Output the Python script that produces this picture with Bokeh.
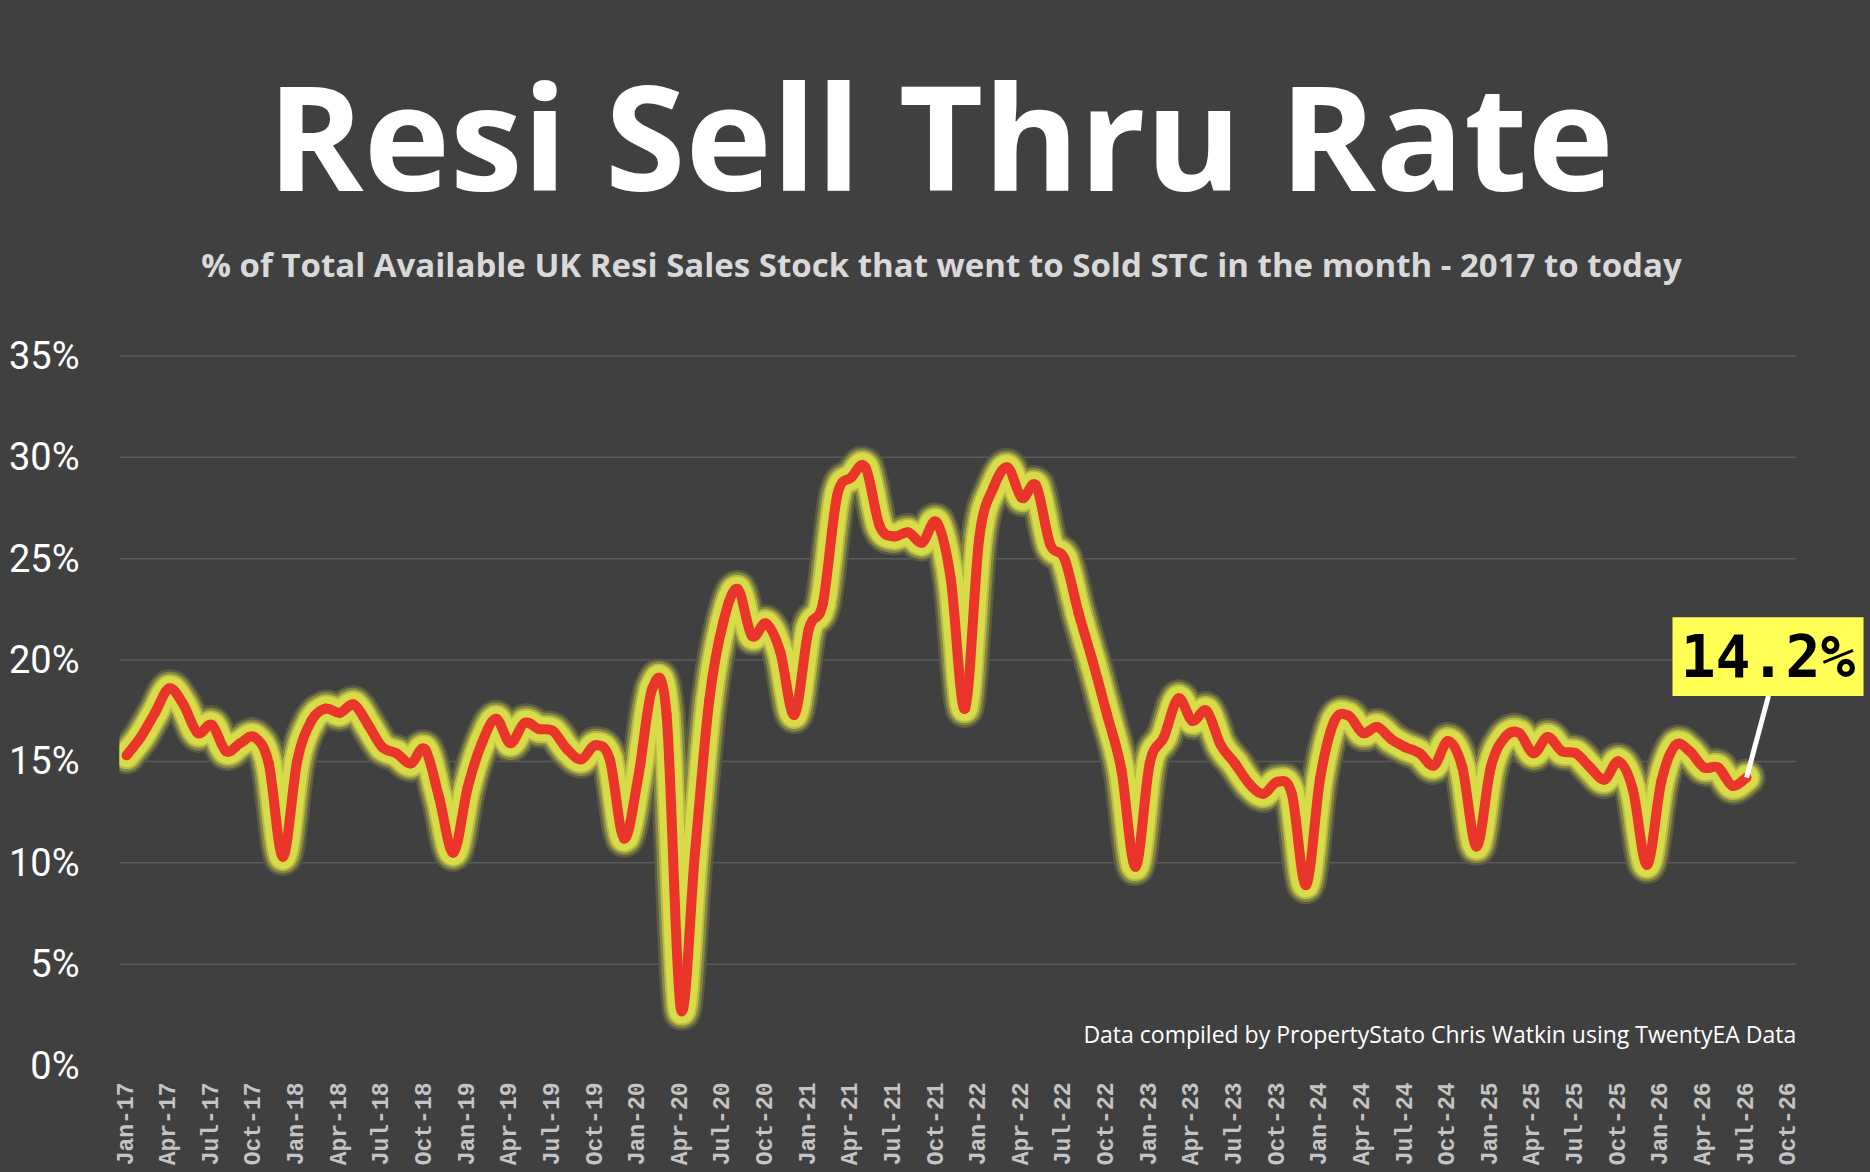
import math
from bokeh.plotting import figure
from bokeh.models import ColumnDataSource, Range1d, FixedTicker, PrintfTickFormatter, Label
from bokeh.embed import file_html
from bokeh.resources import INLINE

# ---------------- data ----------------
MONTH_NAMES = ["Jan", "Feb", "Mar", "Apr", "May", "Jun", "Jul", "Aug", "Sep", "Oct", "Nov", "Dec"]
# category axis: Jan-17 .. Oct-26
months = [f"{m}-{y:02d}" for y in range(17, 27) for m in MONTH_NAMES][:118]

# % of available stock going Sold STC in the month, Jan-17 .. Jul-26
sell_thru = [
    15.3, 16.2, 17.4, 18.6, 17.8, 16.4, 16.8, 15.5, 15.9, 16.2, 14.9, 10.3,   # 2017
    15.0, 17.0, 17.6, 17.4, 17.8, 16.8, 15.7, 15.4, 14.9, 15.6, 13.2, 10.5,   # 2018
    13.7, 15.9, 17.1, 15.9, 16.9, 16.6, 16.5, 15.6, 15.1, 15.8, 15.1, 11.2,   # 2019
    14.2, 18.6, 17.3, 2.8, 10.5, 18.0, 21.9, 23.5, 21.2, 21.8, 20.4, 17.3,    # 2020
    21.5, 22.8, 28.1, 29.0, 29.5, 26.6, 26.1, 26.3, 25.8, 26.8, 24.0, 17.6,   # 2021
    26.0, 28.5, 29.5, 28.0, 28.6, 25.7, 25.0, 22.3, 19.9, 17.3, 14.6, 9.8,    # 2022
    14.9, 16.2, 18.1, 17.0, 17.5, 15.8, 14.9, 13.9, 13.4, 14.0, 13.4, 8.9,    # 2023
    14.2, 17.0, 17.25, 16.4, 16.7, 16.1, 15.7, 15.4, 14.8, 16.0, 14.7, 10.8,  # 2024
    14.7, 16.2, 16.4, 15.4, 16.2, 15.5, 15.4, 14.7, 14.1, 15.0, 13.6, 9.9,    # 2025
    14.0, 15.8, 15.5, 14.7, 14.7, 13.8, 14.2,                                 # 2026
]

tick_labels = [
    "Jan-17", "Apr-17", "Jul-17", "Oct-17", "Jan-18", "Apr-18", "Jul-18", "Oct-18",
    "Jan-19", "Apr-19", "Jul-19", "Oct-19", "Jan-20", "Apr-20", "Jul-20", "Oct-20",
    "Jan-21", "Apr-21", "Jul-21", "Oct-21", "Jan-22", "Apr-22", "Jul-22", "Oct-22",
    "Jan-23", "Apr-23", "Jul-23", "Oct-23", "Jan-24", "Apr-24", "Jul-24", "Oct-24",
    "Jan-25", "Apr-25", "Jul-25", "Oct-25", "Jan-26", "Apr-26", "Jul-26", "Oct-26",
]
y_ticks = [0, 5, 10, 15, 20, 25, 30, 35]
grid_levels = [5, 10, 15, 20, 25, 30, 35]

TITLE = "Resi Sell Thru Rate"
SUBTITLE = "% of Total Available UK Resi Sales Stock that went to Sold STC in the month - 2017 to today"
FOOTNOTE = "Data compiled by PropertyStato Chris Watkin using TwentyEA Data"

# ---------------- layout (pixels) ----------------
W, H = 1866, 1168
FRAME_L, FRAME_B = 119, 1069   # frame spans to top and right edges of the canvas
CAT_W = 14.21                  # px per month
PX_PER_Y = 20.35               # px per percentage point

def dx(px):
    return -0.5 + (px - FRAME_L) / CAT_W

def dy(py):
    return (FRAME_B - py) / PX_PER_Y

BG = "#404040"
RED = "#e9352a"
GLOW = (216, 220, 72)

def mix(c, a, bg=(64, 64, 64)):
    r = [round(bg[k] + (c[k] - bg[k]) * a) for k in range(3)]
    return "#%02x%02x%02x" % tuple(r)

p = figure(
    width=W, height=H, output_backend="svg", toolbar_location=None,
    x_range=Range1d(dx(FRAME_L), dx(W)),
    y_range=Range1d(0, dy(0)),
    min_border_left=FRAME_L, min_border_right=0,
    min_border_top=0, min_border_bottom=H - FRAME_B,
    styles={"background-color": BG},
)
p.background_fill_color = BG
p.border_fill_color = None      # element/page background shows through; avoids frame seams
p.outline_line_color = None
p.xgrid.visible = False
p.ygrid.visible = False

# gridlines limited to the category span
n_cat = len(months)
p.segment(x0=[-0.5] * len(grid_levels), x1=[n_cat - 0.5] * len(grid_levels),
          y0=grid_levels, y1=grid_levels, line_color="#5b5b5b", line_width=1.5)

# ---------------- smoothed line (bezier segments through the data points) ----------------
n = len(sell_thru)
xs = list(range(n))
vs = sell_thru
seg = dict(
    x0=xs[:-1], y0=vs[:-1], x1=xs[1:], y1=vs[1:],
    cx0=[xs[i] + (xs[i + 1] - xs[max(i - 1, 0)]) / 6 for i in range(n - 1)],
    cy0=[vs[i] + (vs[i + 1] - vs[max(i - 1, 0)]) / 6 for i in range(n - 1)],
    cx1=[xs[i + 1] - (xs[min(i + 2, n - 1)] - xs[i]) / 6 for i in range(n - 1)],
    cy1=[vs[i + 1] - (vs[min(i + 2, n - 1)] - vs[i]) / 6 for i in range(n - 1)],
)
src = ColumnDataSource(seg)
for w, a in [(38, 0.18), (33, 0.45), (28, 0.78), (24, 1.0)]:
    p.bezier(x0="x0", y0="y0", x1="x1", y1="y1", cx0="cx0", cy0="cy0", cx1="cx1", cy1="cy1",
             source=src, line_color=mix(GLOW, a), line_width=w, line_cap="round", line_join="round")
p.bezier(x0="x0", y0="y0", x1="x1", y1="y1", cx0="cx0", cy0="cy0", cx1="cx1", cy1="cy1",
         source=src, line_color=RED, line_width=10, line_cap="round", line_join="round")

# ---------------- callout for the latest value ----------------
last_x, last_v = xs[-1], vs[-1]
box_l, box_r, box_t, box_b = dx(1672), dx(1863), dy(619), dy(698)
p.segment(x0=[dx(1768)], y0=[box_b], x1=[last_x], y1=[last_v], line_color="white", line_width=5)
p.quad(left=[box_l], right=[box_r], top=[box_t], bottom=[box_b],
       fill_color="#ffff55", line_color=None)
p.add_layout(Label(x=(box_l + box_r) / 2, y=dy(659), text=f"{last_v:.1f}%",
                   text_align="center", text_baseline="alphabetic",
                   text_font="DejaVu Sans Mono", text_font_style="bold",
                   text_font_size="58px", text_color="black"))

# ---------------- axes ----------------
tick_pos = [months.index(t) for t in tick_labels]
xa = p.xaxis[0]
xa.ticker = FixedTicker(ticks=tick_pos)
xa.major_label_overrides = {pos: lab for pos, lab in zip(tick_pos, tick_labels)}
xa.major_label_orientation = math.pi / 2
xa.major_label_standoff = 11
xa.major_label_text_font = "Liberation Mono"
xa.major_label_text_font_style = "bold"
xa.major_label_text_font_size = "23px"
xa.major_label_text_color = "#c4c4c4"
xa.axis_line_color = None
xa.major_tick_line_color = None
xa.minor_tick_line_color = None

ya = p.yaxis[0]
ya.ticker = FixedTicker(ticks=y_ticks)
ya.formatter = PrintfTickFormatter(format="%d%%")
ya.major_label_standoff = 34
ya.major_label_text_font = "Roboto"
ya.major_label_text_font_size = "38px"
ya.major_label_text_color = "white"
ya.axis_line_color = None
ya.major_tick_line_color = None
ya.minor_tick_line_color = None

# ---------------- titles & footnote ----------------
p.add_layout(Label(x=dx(940), y=dy(135), text=TITLE, text_align="center",
                   text_baseline="alphabetic", text_font="Open Sans", text_font_style="bold",
                   text_font_size="146px", text_color="white"))
p.add_layout(Label(x=dx(941), y=dy(265), text=SUBTITLE, text_align="center",
                   text_baseline="alphabetic", text_font="Open Sans", text_font_style="bold",
                   text_font_size="33px", text_color="#d9d9d9"))
p.add_layout(Label(x=n_cat - 0.5, y=dy(1037), text=FOOTNOTE, text_align="right",
                   text_baseline="alphabetic", text_font="Open Sans",
                   text_font_size="23px", text_color="white"))

html = file_html(p, INLINE, title="Resi Sell Thru Rate")
html = html.replace("</head>", "<style>html, body { background: #404040 !important; }</style></head>", 1)
open("out.html", "w").write(html)
